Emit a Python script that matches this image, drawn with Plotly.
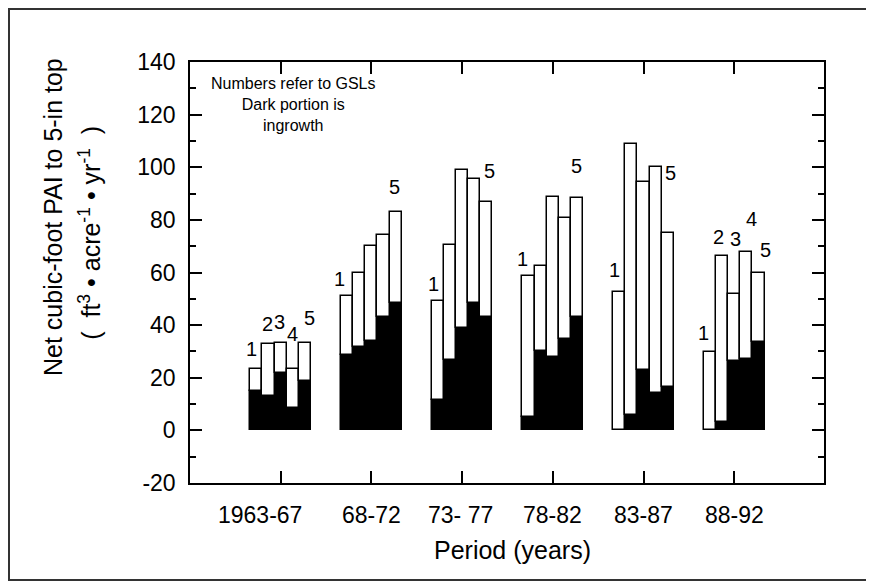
import plotly.graph_objects as go

# periods (x categories) and growing-stock levels
periods = ["1963-67", "68-72", "73- 77", "78-82", "83-87", "88-92"]
gsls = [1, 2, 3, 4, 5]

# y tick values and their labels (plain hyphen for the minus)
y_ticks = [-20, 0, 20, 40, 60, 80, 100, 120, 140]
y_tick_labels = ["-20", "0", "20", "40", "60", "80", "100", "120", "140"]

# net cubic-foot PAI (total bar height), one list per period, GSL 1..5
pai_6367 = [23.3, 32.8, 33.1, 23.5, 33.1]
pai_6872 = [51.1, 59.7, 70.0, 74.2, 82.9]
pai_7377 = [49.2, 70.4, 99.1, 95.5, 86.7]
pai_7882 = [58.6, 62.4, 88.7, 80.8, 88.3]
pai_8387 = [52.7, 108.8, 94.4, 100.1, 75.1]
pai_8892 = [29.6, 66.2, 52.0, 67.7, 59.9]

# ingrowth (dark portion)
ing_6367 = [14.8, 13.2, 21.7, 8.5, 18.6]
ing_6872 = [28.7, 31.5, 34.0, 43.1, 48.6]
ing_7377 = [11.6, 26.7, 38.8, 48.6, 42.9]
ing_7882 = [5.0, 30.0, 27.7, 34.9, 42.9]
ing_8387 = [0.0, 6.0, 23.0, 14.2, 16.6]
ing_8892 = [0.0, 3.3, 26.2, 27.3, 33.4]

totals = [pai_6367, pai_6872, pai_7377, pai_7882, pai_8387, pai_8892]
ingrowth = [ing_6367, ing_6872, ing_7377, ing_7882, ing_8387, ing_8892]

# which GSL numbers are written beside the bars, with pixel nudges (dx, dy)
label_nudges = {
    (0, 1): (-5, 20), (0, 2): (-1, 20), (0, 3): (-1, 21), (0, 4): (0, 35), (0, 5): (4, 25),
    (1, 1): (-8, 17), (1, 5): (-1, 25),
    (2, 1): (-4, 17), (2, 5): (3, 31),
    (3, 1): (-6, 17), (3, 5): (-1, 32),
    (4, 1): (-5, 22), (4, 5): (3, 60),
    (5, 1): (-6, 19), (5, 2): (-4, 19), (5, 3): (1, 55), (5, 4): (5, 33), (5, 5): (7, 23),
}
# horizontal nudge of the period labels (the "19" of 1963 hangs left)
period_nudges = [-21, 0, -2, 0, 0, 0]

bar_w = 0.134
font = "Arial, Liberation Sans, sans-serif"

xs, dark, light = [], [], []
for g, (tot, ing) in enumerate(zip(totals, ingrowth)):
    for k, t, d in zip(gsls, tot, ing):
        xs.append(g + (k - 3) * bar_w)
        dark.append(d)
        light.append(t - d)

fig = go.Figure()
fig.add_trace(go.Bar(
    x=xs, y=dark, width=bar_w,
    marker=dict(color="black", line=dict(color="black", width=1.5)),
    showlegend=False,
))
fig.add_trace(go.Bar(
    x=xs, y=light, base=dark, width=bar_w,
    marker=dict(color="white", line=dict(color="black", width=1.5)),
    showlegend=False,
))

for (g, k), (dx, dy) in label_nudges.items():
    fig.add_annotation(
        x=g + (k - 3) * bar_w, y=totals[g][k - 1], text=str(k),
        showarrow=False, xanchor="center", yanchor="middle",
        xshift=dx, yshift=dy, font=dict(family=font, size=20, color="black"),
    )

# period labels under the x axis
for g, (p, dx) in enumerate(zip(periods, period_nudges)):
    fig.add_annotation(
        x=g, xref="x", y=0, yref="paper", text=p,
        showarrow=False, xanchor="center", yanchor="top",
        xshift=dx, yshift=-17, font=dict(family=font, size=23, color="black"),
    )

fig.add_annotation(
    xref="paper", yref="paper", x=0.509, y=-0.159,
    text="Period (years)", showarrow=False, xanchor="center", yanchor="middle",
    font=dict(family=font, size=25, color="black"),
)

fig.add_annotation(
    xref="paper", yref="paper", x=0.164, y=0.975,
    text="Numbers refer to GSLs<br>Dark portion is<br>ingrowth",
    showarrow=False, xanchor="center", yanchor="top", align="center",
    font=dict(family=font, size=16, color="black"),
)

# y-axis title, two lines
fig.add_annotation(
    xref="paper", yref="paper", x=-0.216, y=0.632,
    text="Net cubic-foot PAI to 5-in top", textangle=-90,
    showarrow=False, xanchor="center", yanchor="middle",
    font=dict(family=font, size=25, color="black"),
)
fig.add_annotation(
    xref="paper", yref="paper", x=-0.158, y=0.594,
    text="(  ft<sup>3</sup> \u2022 acre<sup>-1</sup> \u2022 yr<sup>-1</sup>  )",
    textangle=-90,
    showarrow=False, xanchor="center", yanchor="middle",
    font=dict(family=font, size=25, color="black"),
)

# outer frame of the figure
fig.add_shape(
    type="rect", xref="paper", yref="paper",
    x0=-0.2855, x1=1.078, y0=-0.2304, y1=1.126,
    line=dict(color="#333333", width=2),
)

# the page body adds an 8 px margin, so the figure is 8 px smaller
fig.update_layout(
    width=866, height=575,
    margin=dict(l=182, r=50, t=54, b=100),
    paper_bgcolor="white", plot_bgcolor="white",
    barmode="overlay", bargap=0,
    font=dict(family=font, color="black"),
)
fig.update_xaxes(
    range=[-1.0, 5.99], tickvals=list(range(len(periods))), showticklabels=False,
    ticks="inside", ticklen=12, tickwidth=1.5, tickcolor="black",
    showline=True, linecolor="black", linewidth=1.5, mirror="ticks",
    showgrid=False, zeroline=False,
)
fig.update_yaxes(
    range=[-20, 140], tickvals=y_ticks, ticktext=y_tick_labels,
    ticks="inside", ticklen=12, tickwidth=1.5, tickcolor="black",
    minor=dict(dtick=10, ticks="inside", ticklen=6, tickcolor="black", tickwidth=1.5),
    showline=True, linecolor="black", linewidth=1.5, mirror="ticks",
    showgrid=False, zeroline=False, tickfont=dict(size=23),
    ticklabelstandoff=8,
)

fig.write_html("out.html")
